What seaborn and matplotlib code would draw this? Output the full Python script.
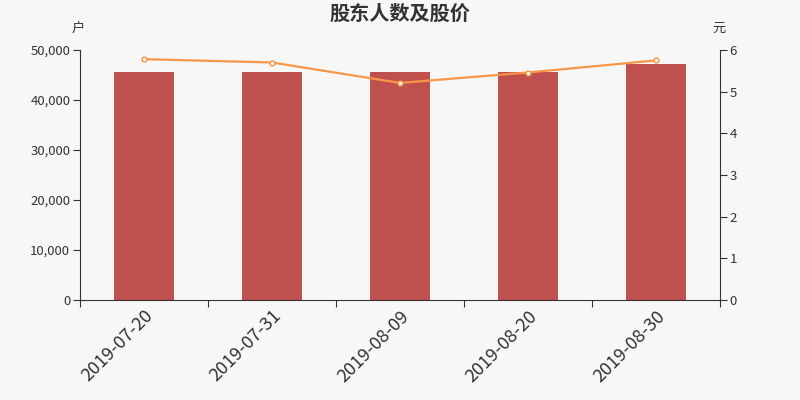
import matplotlib
matplotlib.use("Agg")
import matplotlib.pyplot as plt
import seaborn as sns
import pandas as pd
from matplotlib.ticker import FuncFormatter, FixedLocator

# data
dates = ["2019-07-20", "2019-07-31", "2019-08-09", "2019-08-20", "2019-08-30"]
holders = [45650, 45620, 45640, 45600, 47120]
prices = [5.78, 5.70, 5.21, 5.46, 5.75]

sns.set_style("white")
plt.rcParams['font.family'] = ['Noto Sans CJK SC', 'DejaVu Sans']

bg = "#f7f7f7"
txt = "#333333"
df = pd.DataFrame({"date": dates, "holders": holders, "price": prices})

fig = plt.figure(figsize=(8, 4), dpi=100, facecolor=bg)
ax = fig.add_axes([0.1, 0.25, 0.8, 0.625])
ax.set_facecolor(bg)

sns.barplot(data=df, x="date", y="holders", color="#c0504d", saturation=1,
            width=0.47, linewidth=0, ax=ax)
ax.set_xlim(-0.5, 4.5)
ax.set_ylim(0, 50000)
ax.set_yticks([0, 10000, 20000, 30000, 40000, 50000])
ax.yaxis.set_major_formatter(FuncFormatter(lambda v, p: f"{int(v):,}"))
ax.set_xlabel("")
ax.set_ylabel("")

ax2 = ax.twinx()
sns.lineplot(x=list(range(len(dates))), y=prices, ax=ax2, color="#f79646",
             linewidth=1.6, marker="o", markersize=3.5, markerfacecolor="white",
             markeredgecolor="#f79646", markeredgewidth=1)
ax2.set_ylim(0, 6)
ax2.set_yticks(range(7))
ax.set_xlim(-0.5, 4.5)

for a in (ax, ax2):
    a.spines["top"].set_visible(False)
    for s in ("left", "right", "bottom"):
        a.spines[s].set_color(txt)
        a.spines[s].set_linewidth(0.8)
ax.spines["right"].set_visible(False)
ax2.spines["left"].set_visible(False)
ax2.spines["bottom"].set_visible(False)

ax.tick_params(axis="y", left=True, length=5, width=0.8, color=txt,
               labelsize=9.5, labelcolor=txt, pad=2)
ax2.tick_params(axis="y", right=True, length=5, width=0.8, color=txt,
                labelsize=9.5, labelcolor=txt, pad=2)

# labels under bar centres, tick marks at the slot borders
ax.xaxis.set_minor_locator(FixedLocator([-0.5, 0.5, 1.5, 2.5, 3.5, 4.5]))
ax.tick_params(axis="x", which="major", bottom=True, length=0, labelsize=13,
               labelcolor=txt, pad=5)
ax.tick_params(axis="x", which="minor", bottom=True, length=5, width=0.8, color=txt)
ax.set_xticks(range(len(dates)))
ax.set_xticklabels(dates, rotation=45, ha="right", rotation_mode="anchor")

fig.text(0.5, 0.967, "股东人数及股价", ha="center", va="center", fontsize=14.5,
         color=txt, fontweight="bold")
fig.text(0.098, 0.93, "户", ha="center", va="center", fontsize=9.5, color=txt)
fig.text(0.899, 0.93, "元", ha="center", va="center", fontsize=9.5, color=txt)

fig.savefig("out.png", dpi=100, facecolor=bg)
